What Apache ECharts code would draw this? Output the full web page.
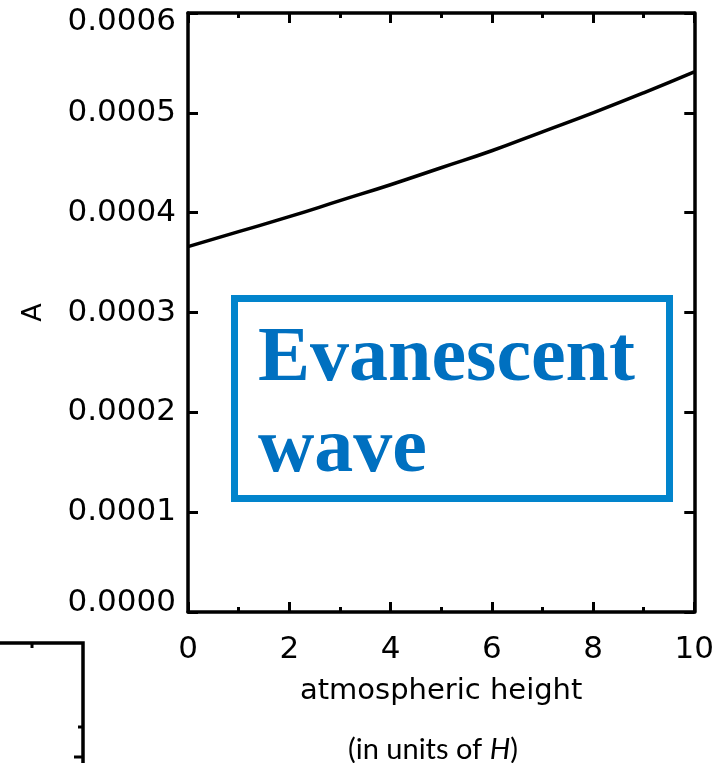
<!DOCTYPE html>
<html>
<head>
<meta charset="utf-8">
<script src="https://cdn.jsdelivr.net/npm/echarts@6/dist/echarts.min.js"></script>
<style>
  html, body { margin: 0; padding: 0; background: #fff; }
  #chart { width: 717px; height: 763px; }
</style>
</head>
<body>
<div id="chart"></div>
<script>
// atmospheric height (units of H) and amplitude A
const heights = [0, 1, 2, 3, 4, 5, 6, 7, 8, 9, 10]
const amplitude = [0.000366, 0.000381, 0.000396, 0.000412, 0.000428, 0.000445, 0.000462, 0.000481, 0.000500, 0.000520, 0.000541]
const yTicks = ['0.0000', '0.0001', '0.0002', '0.0003', '0.0004', '0.0005', '0.0006']

const chart = echarts.init(document.getElementById('chart'))

const axisLine = { show: true, onZero: false, lineStyle: { color: '#000', width: 3.5 } }
const tickFont = { color: '#000', fontSize: 31, fontFamily: 'DejaVu Sans' }
const tickStyle = { color: '#000', width: 3 }

chart.setOption({
  animation: false,
  backgroundColor: '#fff',
  grid: { left: 188, right: 22, top: 13, bottom: 151 },
  xAxis: [
    {
      type: 'value', min: 0, max: 10, interval: 2,
      axisLine: axisLine,
      axisTick: { inside: true, length: 10, lineStyle: tickStyle },
      minorTick: { show: true, splitNumber: 2, length: 5, lineStyle: tickStyle },
      axisLabel: Object.assign({ margin: 22 }, tickFont),
      splitLine: { show: false },
      name: 'atmospheric height',
      nameLocation: 'middle',
      nameGap: 65,
      nameTextStyle: { color: '#000', fontSize: 29, fontFamily: 'DejaVu Sans' }
    },
    {
      type: 'value', min: 0, max: 10, interval: 2, position: 'top',
      axisLine: axisLine,
      axisTick: { inside: true, length: 10, lineStyle: tickStyle },
      minorTick: { show: true, splitNumber: 2, length: 5, lineStyle: tickStyle },
      axisLabel: { show: false },
      splitLine: { show: false }
    }
  ],
  yAxis: [
    {
      type: 'value', min: 0, max: 0.0006, interval: 0.0001,
      axisLine: axisLine,
      axisTick: { inside: true, length: 10, lineStyle: tickStyle },
      axisLabel: Object.assign({
        margin: 12,
        formatter: (v, i) => {
          if (i === 0) return '{lo|' + yTicks[i] + '}'
          if (i === yTicks.length - 1) return '{hi|' + yTicks[i] + '}'
          return yTicks[i]
        },
        rich: {
          lo: { fontSize: 31, fontFamily: 'DejaVu Sans', color: '#000', padding: [0, 0, 18, 0] },
          hi: { fontSize: 31, fontFamily: 'DejaVu Sans', color: '#000', padding: [18, 0, 0, 0] }
        }
      }, tickFont),
      splitLine: { show: false },
      name: 'A',
      nameLocation: 'middle',
      nameGap: 141,
      nameRotate: 90,
      nameTextStyle: { color: '#000', fontSize: 27, fontFamily: 'DejaVu Sans' }
    },
    {
      type: 'value', min: 0, max: 0.0006, interval: 0.0001, position: 'right',
      axisLine: axisLine,
      axisTick: { inside: true, length: 10, lineStyle: tickStyle },
      axisLabel: { show: false },
      splitLine: { show: false }
    }
  ],
  series: [
    {
      type: 'line',
      data: heights.map((h, i) => [h, amplitude[i]]),
      smooth: true,
      showSymbol: false,
      lineStyle: { color: '#000', width: 3.5 }
    }
  ],
  graphic: [
    // annotation box
    {
      type: 'rect',
      shape: { x: 234.5, y: 298.5, width: 435, height: 200 },
      style: { fill: 'none', stroke: '#0284CC', lineWidth: 7 }
    },
    {
      type: 'text',
      left: 258, top: 314,
      style: {
        text: 'Evanescent\nwave',
        fill: '#0070C0',
        font: 'bold 78px "Liberation Serif", "DejaVu Serif", serif',
        lineHeight: 91
      }
    },
    {
      type: 'text',
      left: 348, top: 735,
      style: {
        rich: {
          n: { fill: '#000', fontSize: 29, fontFamily: 'Lato, sans-serif' },
          i: { fill: '#000', fontSize: 29, fontFamily: 'Lato, sans-serif', fontStyle: 'italic' }
        },
        text: '{n|(in units of }{i|H}{n|)}'
      }
    },
    // fragment of the neighbouring panel
    {
      type: 'polyline',
      shape: { points: [[0, 643], [83, 643], [83, 763]] },
      style: { stroke: '#000', lineWidth: 3.5, fill: 'none' }
    },
    {
      type: 'line',
      shape: { x1: 32, y1: 643, x2: 32, y2: 648 },
      style: { stroke: '#000', lineWidth: 3 }
    },
    {
      type: 'line',
      shape: { x1: 83, y1: 727, x2: 78, y2: 727 },
      style: { stroke: '#000', lineWidth: 3 }
    },
    {
      type: 'line',
      shape: { x1: 83, y1: 757, x2: 74, y2: 757 },
      style: { stroke: '#000', lineWidth: 3 }
    }
  ]
})
</script>
</body>
</html>
